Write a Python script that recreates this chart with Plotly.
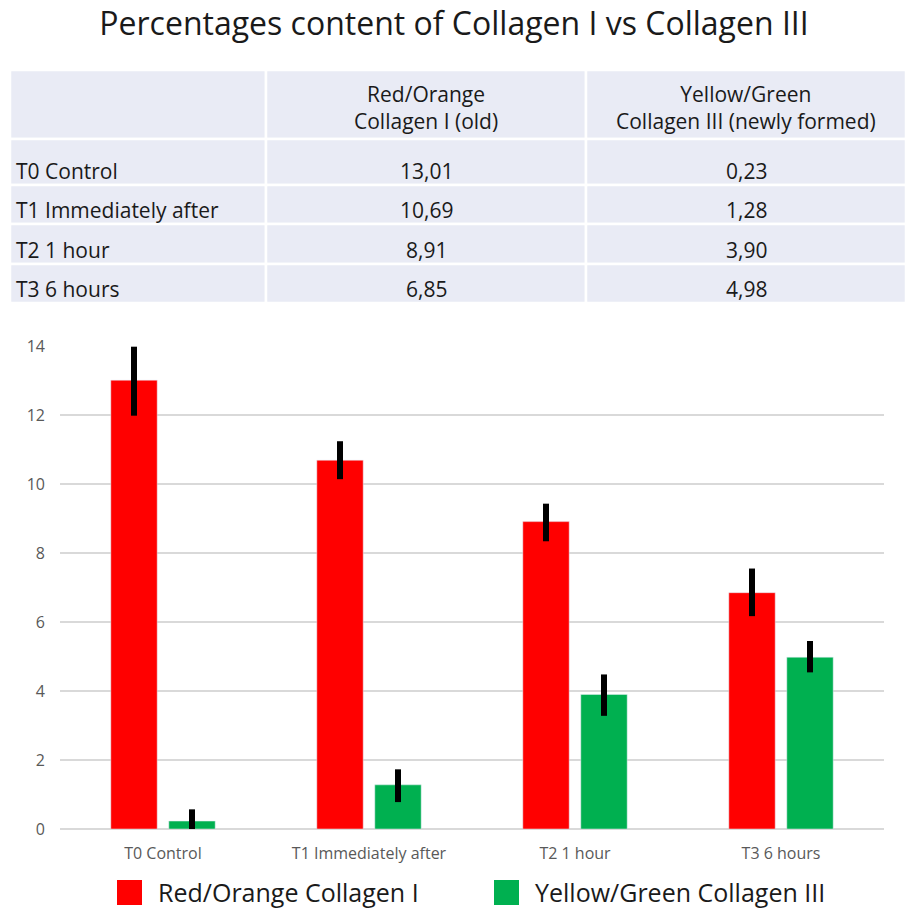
import plotly.graph_objects as go

# ---------------- data ----------------
categories = ["T0 Control", "T1 Immediately after", "T2 1 hour", "T3 6 hours"]
collagen1 = [13.01, 10.69, 8.91, 6.85]
collagen3 = [0.23, 1.28, 3.90, 4.98]
err1_plus = [0.97, 0.55, 0.52, 0.70]
err1_minus = [1.03, 0.55, 0.57, 0.68]
err3_plus = [0.34, 0.45, 0.58, 0.47]
err3_minus = [0.23, 0.50, 0.62, 0.44]

table_header = ["", "Red/Orange<br>Collagen I (old)", "Yellow/Green<br>Collagen III (newly formed)"]
series1_name = "Red/Orange Collagen I"
series3_name = "Yellow/Green Collagen III"
title_text = "Percentages content of Collagen I vs Collagen III"

# ---------------- styling / layout ----------------
red = "#ff0000"
green = "#00b050"
table_fill = "#e9ebf5"
FONT = "Open Sans"
TXT = "#1a1a1a"

W, H = 906, 913


def px_x(x):
    return x / W


def px_y(y):
    return 1 - y / H


def fmt(v):
    return f"{v:.2f}".replace(".", ",")


fig = go.Figure()

fig.add_trace(go.Bar(
    x=categories, y=collagen1, name=series1_name, marker_color=red,
    error_y=dict(type="data", array=err1_plus, arrayminus=err1_minus,
                 color="black", thickness=6, width=0),
    showlegend=False,
))
fig.add_trace(go.Bar(
    x=categories, y=collagen3, name=series3_name, marker_color=green,
    error_y=dict(type="data", array=err3_plus, arrayminus=err3_minus,
                 color="black", thickness=6, width=0),
    showlegend=False,
))

shapes = []
annotations = []

# ---------------- table (built from the data arrays) ----------------
col_edges = [10, 266, 586, 906]
row_edges = [70, 139, 185, 224, 264, 303]
table_rows = [[table_header[0], table_header[1], table_header[2]]] + [
    [c, fmt(a), fmt(b)] for c, a, b in zip(categories, collagen1, collagen3)
]
for r in range(len(row_edges) - 1):
    y0, y1 = row_edges[r], row_edges[r + 1]
    for c in range(len(col_edges) - 1):
        x0, x1 = col_edges[c], col_edges[c + 1]
        shapes.append(dict(type="rect", xref="paper", yref="paper", layer="below",
                           x0=px_x(x0), x1=px_x(x1), y0=px_y(y1), y1=px_y(y0),
                           fillcolor=table_fill, line=dict(color="white", width=2.5)))
        txt = table_rows[r][c]
        if not txt:
            continue
        if r == 0:
            ty = (y0 + y1) / 2 + 3
        else:
            ty = y1 - 14
        if c == 0:
            tx, anchor = x0 + 4, "left"
        else:
            tx, anchor = (x0 + x1) / 2, "center"
        annotations.append(dict(text=txt, xref="paper", yref="paper",
                                x=px_x(tx), y=px_y(ty), xanchor=anchor, yanchor="middle",
                                showarrow=False, align="center",
                                font=dict(family=FONT, size=21, color=TXT)))

# ---------------- legend ----------------
legend_items = [(series1_name, red, 117), (series3_name, green, 494)]
for name, col, x0 in legend_items:
    shapes.append(dict(type="rect", xref="paper", yref="paper",
                       x0=px_x(x0), x1=px_x(x0 + 25), y0=px_y(905), y1=px_y(880),
                       fillcolor=col, line=dict(width=0)))
    annotations.append(dict(text=name, xref="paper", yref="paper",
                            x=px_x(x0 + 39), y=px_y(892), xanchor="left", yanchor="middle",
                            showarrow=False,
                            font=dict(family=FONT, size=25, color=TXT)))

fig.update_layout(
    width=W, height=H,
    margin=dict(l=0, r=0, t=0, b=0, autoexpand=False),
    paper_bgcolor="white", plot_bgcolor="white",
    title=dict(text=title_text, x=px_x(454), xanchor="center",
               y=px_y(24), yanchor="middle",
               font=dict(family=FONT, size=32, color=TXT)),
    barmode="group", bargap=0.437, bargroupgap=0.2,
    xaxis=dict(domain=[px_x(60), px_x(884)], showgrid=False, showline=False,
               ticks="", tickfont=dict(family=FONT, size=16, color="#595959"),
               ticklabelstandoff=13),
    yaxis=dict(domain=[px_y(829), px_y(346)], range=[0, 14], dtick=2,
               showgrid=True, gridcolor="#d9d9d9", gridwidth=1.5,
               zeroline=True, zerolinecolor="#d9d9d9", zerolinewidth=1.5,
               showline=False, ticks="",
               tickfont=dict(family=FONT, size=16, color="#595959"),
               ticklabelstandoff=14),
    shapes=shapes,
    annotations=annotations,
    showlegend=False,
)

fig.write_html("out.html",
               config={"displayModeBar": False},
               post_script="document.body.style.margin='0';document.body.style.padding='0';")
